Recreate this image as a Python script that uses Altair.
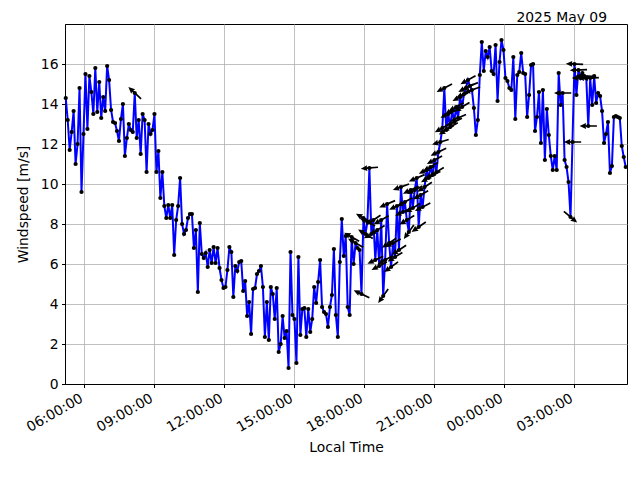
import altair as alt
import pandas as pd

# ---------------- data ----------------
title_text = "2025 May 09"
start_time = "2025-05-09 05:13"
end_time = "2025-05-10 05:13"

speed = [
    14.3, 13.2, 11.7, 12.6, 13.65, 11.0, 12.0, 14.8, 9.6, 12.5,
    15.5, 12.75, 15.4, 14.6, 13.5, 15.8, 13.6, 15.1, 13.3, 14.35,
    13.65, 15.9, 15.2, 13.7, 13.1, 13.05, 12.65, 12.15,
    13.25, 14.0, 11.4, 12.3, 13.0, 12.7, 12.6, 14.55, 12.3, 13.2,
    11.5, 13.5, 13.2, 10.6, 13.0, 12.5, 12.7, 13.5, 10.6, 11.65,
    9.3, 10.6, 8.9,
    8.3, 8.95, 8.3, 8.95, 6.45, 8.2, 8.9, 10.3, 8.0, 7.5,
    7.7, 8.3, 8.5, 8.5, 6.8, 7.7, 4.6, 8.05, 6.5, 6.3,
    6.55, 5.85, 6.7, 6.05, 6.85, 6.05, 6.8,
    5.8, 5.2, 4.8, 4.85, 5.7, 6.85, 6.6, 4.35, 5.9, 5.65,
    6.1, 6.15, 4.65, 5.15, 3.4, 4.1, 2.5, 4.75, 4.8, 5.5,
    5.65, 5.9, 4.85, 2.35, 4.1, 2.2,
    4.85, 4.5, 3.25, 4.8, 1.6, 2.0, 3.4, 2.3, 2.65, 0.8,
    6.6, 3.45, 3.25, 1.05, 6.35, 2.45, 3.75, 3.8, 2.35, 3.75,
    2.6, 3.25, 4.85, 4.05, 5.1, 6.2,
    3.85, 3.6, 3.5, 2.85, 3.85, 4.45, 6.75, 3.45, 2.35, 6.1,
    8.25, 6.4, 7.4, 3.85, 3.45, 7.35, 6.0, 7.05, 6.8, 6.7,
    4.5, 8.3, 7.5, 8.1,
    10.8, 7.5, 8.2, 6.2, 7.7, 5.9, 8.2, 4.4, 6.2, 9.0,
    7.05, 5.85, 7.05, 6.35, 8.9, 6.7, 9.85, 8.6, 9.1, 8.2,
    7.6, 9.7, 8.8, 9.7, 10.3, 7.85,
    9.45, 8.85, 9.85, 10.7, 10.3, 10.85, 10.45, 11.2, 10.6, 11.6,
    12.1, 12.8, 14.8, 12.7, 13.5, 12.85, 13.7, 13.1, 13.85, 13.3,
    14.35, 13.85, 14.5, 14.8, 15.2,
    14.9, 14.7, 13.8, 12.45, 13.2, 15.45, 17.1, 15.65, 16.65, 16.35,
    16.85, 15.65, 15.5, 16.95, 14.15, 16.1, 17.2, 16.7, 15.3, 15.15,
    14.8, 14.7, 16.35, 13.25, 15.45, 15.6, 16.55, 15.55, 15.5, 13.35,
    14.45, 15.95, 16.0, 12.65, 13.35, 14.6, 12.05, 14.7, 11.2, 13.75,
    12.45, 11.4, 10.7, 11.4, 10.7, 15.55, 13.95, 14.55, 11.2, 10.85,
    10.1, 8.35, 12.1, 16.0, 14.45, 15.7, 15.3, 15.55, 15.4, 15.3,
    12.9, 15.3, 13.95, 15.4, 14.05, 14.55, 14.4, 13.65, 12.05, 12.5,
    13.1, 10.55, 10.9, 13.35, 13.4, 13.35, 13.3, 11.9, 11.35, 10.85,
]

# which samples carry a direction arrow, and the compass bearing it points to
arrow_points = (
    [35, 145, 147, 150, 151, 152, 153]
    + list(range(154, 207))
    + [252, 256, 257, 258, 260, 261, 263, 264, 265, 266]
)
arrow_bearing = (
    [313, 300, 300, 295, 300, 302, 298]
    + [265, 240, 236, 245, 238, 243, 240, 215, 241, 247,
       236, 234, 242, 238, 245, 236, 250, 244, 241, 239,
       215, 245, 238, 242, 247, 235, 240, 243, 237, 245,
       241, 239, 246, 242, 238, 244, 253, 240, 243, 239,
       245, 241, 237, 244, 240, 246, 242, 239, 245, 243,
       241, 247, 250]
    + [270, 130, 270, 272, 268, 270, 272, 270, 270, 268]
)

y_ticks = [0, 2, 4, 6, 8, 10, 12, 14, 16]
x_ticks = [(9, 6), (9, 9), (9, 12), (9, 15), (9, 18), (9, 21), (10, 0), (10, 3)]

# ---------------- tables ----------------
times = pd.date_range(start_time, end_time, periods=len(speed))
df = pd.DataFrame({"time": times.strftime("%Y-%m-%dT%H:%M:%SZ"), "speed": speed})
arr = pd.DataFrame({
    "time": df["time"].iloc[arrow_points].to_list(),
    "speed": df["speed"].iloc[arrow_points].to_list(),
    "bearing": arrow_bearing,
})
title_df = pd.DataFrame({"label": [title_text]})

font = "DejaVu Sans"
fs = 13.9

tick_vals = [alt.DateTime(year=2025, month=5, date=d, hours=h, utc=True) for d, h in x_ticks]

x_enc = alt.X(
    "time:T",
    scale=alt.Scale(
        type="utc",
        domain=[
            alt.DateTime(year=2025, month=5, date=9, hours=5, minutes=11, seconds=6, utc=True),
            alt.DateTime(year=2025, month=5, date=10, hours=5, minutes=16, seconds=17, utc=True),
        ],
    ),
    axis=alt.Axis(
        values=tick_vals, labelExpr="utcFormat(datum.value, '%H:%M:%S')",
        labelAngle=-30, labelAlign="right", labelBaseline="top",
        labelOffset=-6, labelPadding=3.5, tickSize=3.5,
        labelOverlap=False, labelFlush=False,
        title="Local Time", titleX=281, titleY=63,
        titleAlign="center", titleBaseline="middle", grid=True,
    ),
)
y_enc = alt.Y(
    "speed:Q",
    scale=alt.Scale(domain=[0, 18], nice=False, zero=True),
    axis=alt.Axis(
        values=y_ticks, labelPadding=3.5, tickSize=3.5, grid=True,
        title="Windspeed [m/s]", titleX=-42, titleY=180, titleAngle=270,
        titleAlign="center", titleBaseline="middle",
    ),
)

line = alt.Chart(df).mark_line(color="#0000ff", strokeWidth=2).encode(x=x_enc, y=y_enc)
dots = alt.Chart(df).mark_circle(color="black", size=18, opacity=1).encode(x=x_enc, y=y_enc)

arrow_path = "M-1,-0.1L0.3,-0.1L0.25,-0.34L1,0L0.25,0.34L0.3,0.1L-1,0.1Z"
arrow_layer = (
    alt.Chart(arr)
    .transform_calculate(ang="(datum.bearing + 270) % 360")
    .mark_point(shape=arrow_path, filled=True, color="black", size=300, opacity=1, strokeWidth=0)
    .encode(x=x_enc, y=y_enc, angle=alt.Angle("ang:Q", scale=None))
)

title_layer = (
    alt.Chart(title_df)
    .mark_text(align="right", baseline="alphabetic", font=font, fontSize=fs, color="black")
    .encode(text="label:N", x=alt.value(542), y=alt.value(-2))
)

chart = (
    alt.layer(line, dots, arrow_layer, title_layer)
    .properties(
        width=562, height=360,
        autosize=alt.AutoSizeParams(type="none"),
        padding={"left": 57, "top": 16, "right": 5, "bottom": 80},
    )
    .configure_axis(
        labelFont=font, titleFont=font, labelFontSize=fs, titleFontSize=fs,
        titleFontWeight="normal", labelColor="black", titleColor="black",
        domainColor="black", tickColor="black", gridColor="#b0b0b0",
        gridWidth=0.8, domainWidth=1, tickWidth=1,
    )
    .configure_view(stroke="black", strokeWidth=1)
)

chart.save("out.html", embed_options={"renderer": "svg", "actions": False})
